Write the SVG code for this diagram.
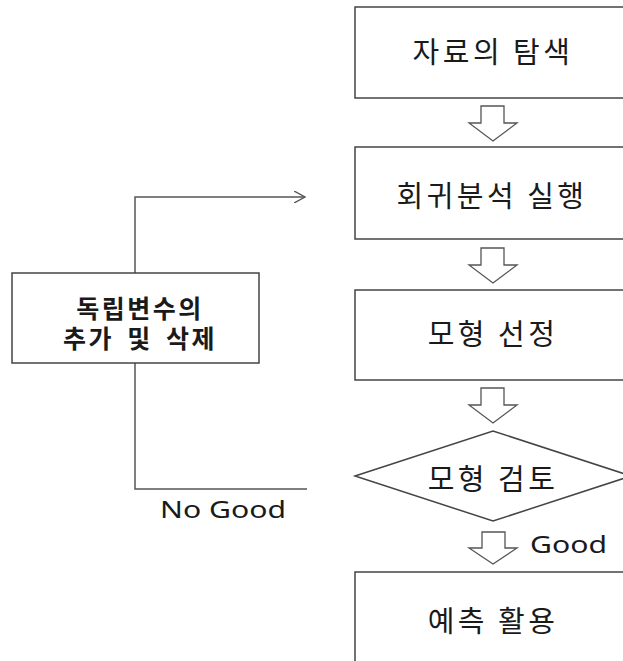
<svg xmlns="http://www.w3.org/2000/svg" width="623" height="661" viewBox="0 0 623 661">
<style>
.box{fill:#fff;stroke:#444;stroke-width:1.5}
.arr{fill:#fff;stroke:#555;stroke-width:1.3;stroke-linejoin:miter}
.ln{fill:none;stroke:#555;stroke-width:1.5}
.t{font-family:"Noto Sans CJK KR","Noto Sans",sans-serif;font-size:29px;letter-spacing:3.5px;fill:#1a1a1a;text-anchor:middle}
.tb{font-family:"Noto Sans CJK KR","Noto Sans",sans-serif;font-size:25px;letter-spacing:2.5px;word-spacing:5px;font-weight:bold;fill:#1a1a1a;text-anchor:middle}
.e{font-family:"Noto Sans","DejaVu Sans",sans-serif;font-size:23px;fill:#1a1a1a}
</style>
<defs>
<marker id="chev" viewBox="0 0 12 12" refX="11" refY="6" markerWidth="12" markerHeight="12" markerUnits="userSpaceOnUse" orient="auto">
<path d="M0,0 L11,6 L0,12" fill="none" stroke="#555" stroke-width="1.4"/>
</marker>
</defs>
<rect width="623" height="661" fill="#fff"/>
<g id="connectors">
<path class="ln" d="M135,273 V197 H305" marker-end="url(#chev)"/>
<path class="ln" d="M135,363 V489 H307"/>
<path class="arr" d="M481,106 H504 V123 H517 L493,141 L469,123 H481 Z"/>
<path class="arr" d="M481,248 H504 V265 H517 L493,283 L469,265 H481 Z"/>
<path class="arr" d="M481,388 H504 V405 H517 L493,423 L469,405 H481 Z"/>
<path class="arr" d="M482,532 H505 V548 H517 L493,564 L469,548 H482 Z"/>
<text class="e" x="160" y="518" textLength="126" lengthAdjust="spacingAndGlyphs">No Good</text>
<text class="e" x="530" y="553" textLength="77" lengthAdjust="spacingAndGlyphs">Good</text>
</g>
<g id="n1">
<rect class="box" x="355" y="7" width="280" height="91"/>
<text class="t" x="493" y="63">자료의 탐색</text>
</g>
<g id="n2">
<rect class="box" x="355" y="147" width="280" height="92"/>
<text class="t" x="492" y="207">회귀분석 실행</text>
</g>
<g id="n3">
<rect class="box" x="355" y="290" width="280" height="90"/>
<text class="t" x="493" y="345">모형 선정</text>
</g>
<g id="n4">
<polygon class="box" points="355,476 493,431 631,476 493,521"/>
<text class="t" x="493" y="490">모형 검토</text>
</g>
<g id="n5">
<rect class="box" x="355" y="572" width="280" height="100"/>
<text class="t" x="493" y="632">예측 활용</text>
</g>
<g id="n6">
<rect class="box" x="12" y="273" width="247" height="90"/>
<text class="tb" x="140" y="318">독립변수의</text>
<text class="tb" x="140" y="348">추가 및 삭제</text>
</g>
</svg>
